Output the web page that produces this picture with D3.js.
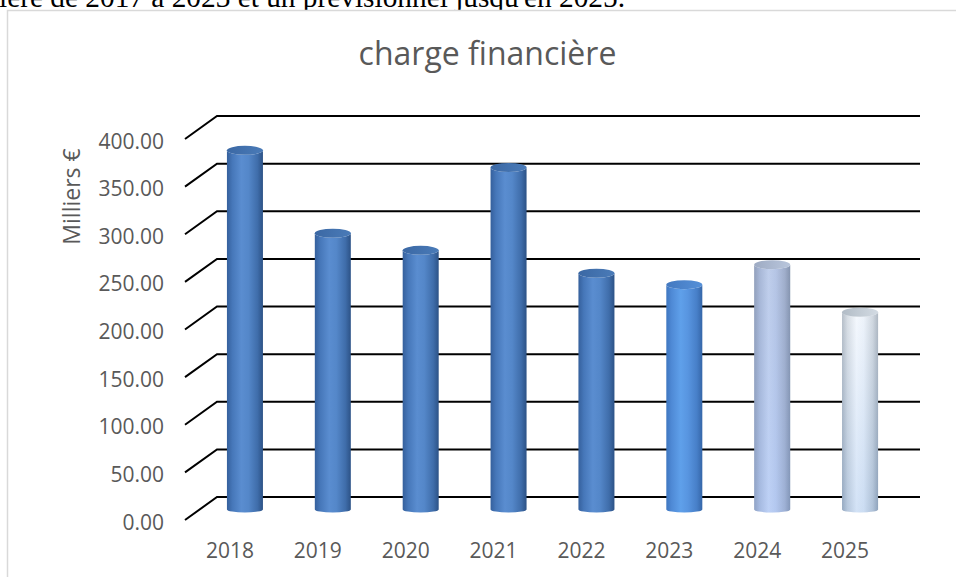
<!DOCTYPE html>
<html><head><meta charset="utf-8">
<script src="https://cdn.jsdelivr.net/npm/d3@7"></script>
<style>html,body{margin:0;padding:0;background:#fff;overflow:hidden}</style>
</head><body>
<svg id="c" width="956" height="577"></svg>
<script>
const categories = ["2018","2019","2020","2021","2022","2023","2024","2025"];
const values = [376, 289, 271, 358, 247, 235, 256, 206];
const yTicks = [0, 50, 100, 150, 200, 250, 300, 350, 400];
const barStyle = ["blue","blue","blue","blue","blue","bright","lavender","white"];
const title = "charge financière";
const yTitle = "Milliers €";
const introText = "ière de 2017 à 2023 et un prévisionnel jusqu'en 2025.";

const svg = d3.select("#c");
const DX = 32, DY = 23;           // depth offset (front = back - DX, + DY)
const x = d3.scaleBand().domain(categories).range([217, 920]);
const y = d3.scaleLinear().domain([0, 400]).range([497, 116]);

// intro text (cut off at the top)
svg.append("text").attr("x", -1).attr("y", 6.5)
  .attr("font-family", "Liberation Serif, Times New Roman, serif")
  .attr("font-size", 29).attr("fill", "#000")
  .attr("textLength", 626).attr("lengthAdjust", "spacingAndGlyphs")
  .text(introText);

// chart area border
svg.append("rect").attr("x", 7.5).attr("y", 10.5).attr("width", 1000).attr("height", 600)
  .attr("fill", "#fff").attr("stroke", "#d9d9d9").attr("stroke-width", 1.5);

// title
svg.append("text").attr("x", 487.5).attr("y", 65).attr("text-anchor", "middle")
  .attr("font-family", "Open Sans, sans-serif").attr("font-size", 32).attr("fill", "#595959")
  .text(title);

// y title
svg.append("text").attr("transform", "translate(80,196.5) rotate(-90)").attr("text-anchor", "middle")
  .attr("font-family", "Open Sans, sans-serif").attr("font-size", 23).attr("fill", "#595959")
  .text(yTitle);

// gridlines (side wall diagonal + back wall)
const grid = svg.append("g").attr("stroke", "#000").attr("stroke-width", 2).attr("fill", "none");
yTicks.forEach(t => {
  const yb = y(t);
  grid.append("path").attr("d", `M${x.range()[0]-DX},${yb+DY}L${x.range()[0]},${yb}L${x.range()[1]},${yb}`);
});

// tick labels
svg.append("g").selectAll("text").data(yTicks).join("text")
  .attr("x", 164).attr("y", d => y(d) + DY + 9.5).attr("text-anchor", "end")
  .attr("font-family", "Open Sans, sans-serif").attr("font-size", 21).attr("fill", "#595959")
  .text(d => d3.format(".2f")(d));

// category labels
svg.append("g").selectAll("text").data(categories).join("text")
  .attr("x", d => x(d) + x.bandwidth()/2 - DX + 1).attr("y", 558).attr("text-anchor", "middle")
  .attr("font-family", "Open Sans, sans-serif").attr("font-size", 21).attr("fill", "#595959")
  .text(d => d);

// gradients
const defs = svg.append("defs");
const palettes = {
  blue:     {side: ["#35609c","#4677b9","#5a8dd0","#5487c9","#3f6daa","#2c5286"], top: ["#3b68a4","#4a7bb8"]},
  bright:   {side: ["#3f77c0","#4f8ad6","#5fa0ea","#5895e0","#477fc8","#3566a8"], top: ["#4479c0","#5590d8"]},
  lavender: {side: ["#8797b6","#a4b6da","#c4d5f6","#b7c9ee","#9aaacb","#7788a6"], top: ["#9eabc3","#b9c6dc"]},
  white:    {side: ["#8f9cab","#c3ccd6","#eef4fc","#e3ecf7","#b8c3cf","#8593a3"], top: ["#b2bcc6","#d3dbe3"]}
};
const stops = [0, 0.15, 0.4, 0.6, 0.85, 1];
Object.entries(palettes).forEach(([k, p]) => {
  const g = defs.append("linearGradient").attr("id", "side-" + k).attr("x1", 0).attr("x2", 1).attr("y1", 0).attr("y2", 0);
  p.side.forEach((c, i) => g.append("stop").attr("offset", stops[i]).attr("stop-color", c));
  const t = defs.append("linearGradient").attr("id", "top-" + k).attr("x1", 0).attr("x2", 1).attr("y1", 0).attr("y2", 0);
  t.append("stop").attr("offset", 0).attr("stop-color", p.top[0]);
  t.append("stop").attr("offset", 1).attr("stop-color", p.top[1]);
});
// vertical tint overlays for the forecast bars
const vw = defs.append("linearGradient").attr("id", "vtint-white").attr("x1", 0).attr("x2", 0).attr("y1", 0).attr("y2", 1);
vw.append("stop").attr("offset", 0).attr("stop-color", "#ffffff").attr("stop-opacity", 0.35);
vw.append("stop").attr("offset", 1).attr("stop-color", "#9fc0ea").attr("stop-opacity", 0.35);
const vl = defs.append("linearGradient").attr("id", "vtint-lavender").attr("x1", 0).attr("x2", 0).attr("y1", 0).attr("y2", 1);
vl.append("stop").attr("offset", 0).attr("stop-color", "#b0b8c8").attr("stop-opacity", 0.25);
vl.append("stop").attr("offset", 1).attr("stop-color", "#a8c4f4").attr("stop-opacity", 0.25);

// cylinders
const RX = 18, RYT = 4.5, RYB = 3;
const bars = svg.append("g");
categories.forEach((c, i) => {
  const cx = x(c) + x.bandwidth()/2 - DX/2;
  const yt = y(values[i]) + DY/2;
  const yb = y(0) + DY/2 + 1;
  const st = barStyle[i];
  const side = `M${cx-RX},${yt}L${cx-RX},${yb}A${RX},${RYB} 0 0 0 ${cx+RX},${yb}L${cx+RX},${yt}A${RX},${RYT} 0 0 1 ${cx-RX},${yt}Z`;
  bars.append("path").attr("d", side).attr("fill", `url(#side-${st})`);
  if (st === "white" || st === "lavender") {
    bars.append("path").attr("d", side).attr("fill", `url(#vtint-${st})`);
  }
  bars.append("ellipse").attr("cx", cx).attr("cy", yt).attr("rx", RX).attr("ry", RYT)
    .attr("fill", `url(#top-${st})`);
});
</script>
</body></html>
